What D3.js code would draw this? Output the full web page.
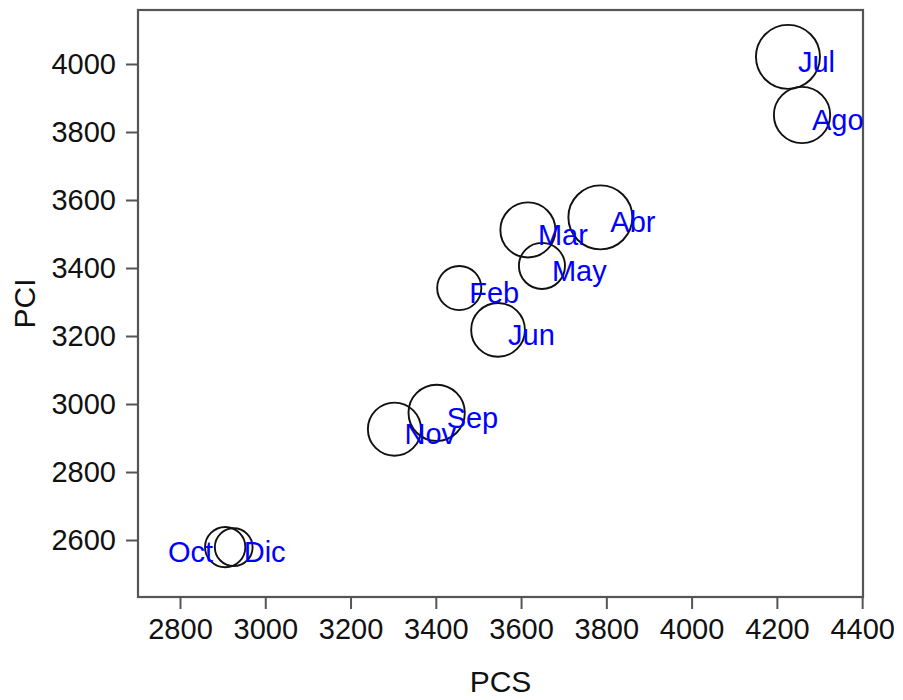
<!DOCTYPE html>
<html>
<head>
<meta charset="utf-8">
<script src="https://cdn.jsdelivr.net/npm/d3@7"></script>
<style>
  body { margin: 0; background: #fff; }
  text { font-family: "Liberation Sans", Arial, sans-serif; }
</style>
</head>
<body>
<div id="chart"></div>
<script>
// data
const meses = ["Feb", "Mar", "Abr", "May", "Jun", "Jul", "Ago", "Sep", "Oct", "Nov", "Dic"];
const pcs   = [3455, 3616, 3786, 3649, 3546, 4226, 4259, 3402, 2906, 3303, 2926];
const pci   = [3341, 3512, 3549, 3406, 3218, 4021, 3850, 2974, 2579, 2926, 2579];
// third variable, shown as circle radius
const tam   = [69, 86, 100, 72, 84, 100, 88, 88, 63, 83, 59];

const xTicks = [2800, 3000, 3200, 3400, 3600, 3800, 4000, 4200, 4400];
const yTicks = [2600, 2800, 3000, 3200, 3400, 3600, 3800, 4000];

// labels that sit on the left side of their circle
const leftLabels = ["Oct"];

const data = meses.map((m, i) => ({mes: m, x: pcs[i], y: pci[i], r: tam[i]}));

const width = 903, height = 700;
const box = {left: 138, right: 863, top: 10, bottom: 597};

const svg = d3.select("#chart")
  .append("svg")
    .attr("width", width)
    .attr("height", height);

const x = d3.scaleLinear()
  .domain([2701.5, 4402])
  .range([box.left, box.right]);

const y = d3.scaleLinear()
  .domain([2432.4, 4158.8])
  .range([box.bottom, box.top]);

const r = d3.scaleLinear()
  .domain([0, d3.max(tam)])
  .range([0, 32]);

const axisColor = "#555";

// x axis
const gx = svg.append("g")
  .attr("transform", `translate(0, ${box.bottom})`)
  .call(d3.axisBottom(x).tickValues(xTicks).tickSize(12).tickPadding(9).tickFormat(d3.format("d")));
gx.select(".domain").remove();
gx.selectAll(".tick line").attr("stroke", axisColor).attr("stroke-width", 2);
gx.selectAll(".tick text")
  .attr("fill", "#111")
  .style("font-size", "29px");

// y axis
const gy = svg.append("g")
  .attr("transform", `translate(${box.left}, 0)`)
  .call(d3.axisLeft(y).tickValues(yTicks).tickSize(12).tickPadding(10).tickFormat(d3.format("d")));
gy.select(".domain").remove();
gy.selectAll(".tick line").attr("stroke", axisColor).attr("stroke-width", 2);
gy.selectAll(".tick text")
  .attr("fill", "#111")
  .style("font-size", "29px");

// frame
svg.append("rect")
  .attr("x", box.left)
  .attr("y", box.top)
  .attr("width", box.right - box.left)
  .attr("height", box.bottom - box.top)
  .attr("fill", "none")
  .attr("stroke", axisColor)
  .attr("stroke-width", 2.2);

// axis titles
svg.append("text")
  .attr("x", (box.left + box.right) / 2)
  .attr("y", 692)
  .attr("text-anchor", "middle")
  .attr("fill", "#111")
  .style("font-size", "30px")
  .text("PCS");

svg.append("text")
  .attr("transform", `translate(35, ${(box.top + box.bottom) / 2}) rotate(-90)`)
  .attr("text-anchor", "middle")
  .attr("fill", "#111")
  .style("font-size", "30px")
  .text("PCI");

// circles
svg.append("g")
  .selectAll("circle")
  .data(data)
  .join("circle")
    .attr("cx", d => x(d.x))
    .attr("cy", d => y(d.y))
    .attr("r", d => r(d.r))
    .attr("fill", "none")
    .attr("stroke", "#111")
    .attr("stroke-width", 1.9);

// month labels
svg.append("g")
  .selectAll("text")
  .data(data)
  .join("text")
    .attr("x", d => leftLabels.includes(d.mes) ? x(d.x) - 12 : x(d.x) + 10)
    .attr("y", d => y(d.y) + 5)
    .attr("dy", "0.35em")
    .attr("text-anchor", d => leftLabels.includes(d.mes) ? "end" : "start")
    .attr("fill", "blue")
    .style("font-size", "29px")
    .text(d => d.mes);
</script>
</body>
</html>
